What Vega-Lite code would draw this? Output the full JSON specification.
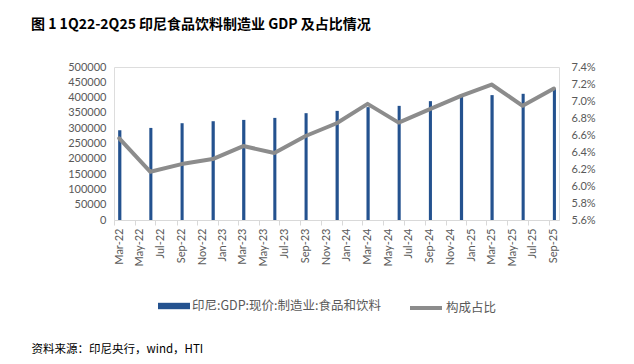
{
  "$schema": "https://vega.github.io/schema/vega-lite/v6.json",
  "width": 445,
  "height": 153,
  "autosize": {"type": "none"},
  "padding": {"left": 114, "top": 67, "right": 75, "bottom": 144},
  "background": "white",
  "title": {
    "text": "图 1 1Q22-2Q25 印尼食品饮料制造业 GDP 及占比情况",
    "font": "Noto Sans CJK SC",
    "fontSize": 14,
    "fontWeight": "bold",
    "color": "#000000",
    "anchor": "start",
    "frame": "group",
    "dx": -83,
    "offset": 29
  },
  "data": {
    "values": [
      {"date": "2022-03-01", "gdp": 293300, "share": 0.06561},
      {"date": "2022-06-01", "gdp": 300900, "share": 0.06167},
      {"date": "2022-09-01", "gdp": 316300, "share": 0.06258},
      {"date": "2022-12-01", "gdp": 322800, "share": 0.06317},
      {"date": "2023-03-01", "gdp": 327100, "share": 0.06470},
      {"date": "2023-06-01", "gdp": 333700, "share": 0.06388},
      {"date": "2023-09-01", "gdp": 349100, "share": 0.06588},
      {"date": "2023-12-01", "gdp": 356600, "share": 0.06738},
      {"date": "2024-03-01", "gdp": 368800, "share": 0.06966},
      {"date": "2024-06-01", "gdp": 373000, "share": 0.06746},
      {"date": "2024-09-01", "gdp": 388400, "share": 0.06904},
      {"date": "2024-12-01", "gdp": 403500, "share": 0.07061},
      {"date": "2025-03-01", "gdp": 408100, "share": 0.07194},
      {"date": "2025-06-01", "gdp": 412400, "share": 0.06943},
      {"date": "2025-09-01", "gdp": 429800, "share": 0.07147}
    ]
  },
  "layer": [
    {
      "mark": {"type": "bar", "width": {"band": 0.4}},
      "encoding": {
        "x": {
          "field": "date",
          "type": "temporal",
          "timeUnit": "utcyearmonth",
          "scale": {
            "type": "utc",
            "nice": false,
            "domain": [
              {"year": 2022, "month": "mar", "date": 1, "utc": true},
              {"year": 2025, "month": "oct", "date": 1, "utc": true}
            ]
          },
          "axis": {
            "format": "%b-%y",
            "tickCount": {"interval": "month", "step": 2},
            "labelAngle": -90,
            "labelOffset": 5,
            "labelPadding": 3,
            "labelOverlap": false,
            "labelFlush": false,
            "labelFont": "Lato",
            "labelFontSize": 11,
            "labelColor": "#595959",
            "domainColor": "#D9D9D9",
            "tickColor": "#D9D9D9",
            "tickSize": 5,
            "grid": false,
            "title": "资料来源：印尼央行，wind，HTI",
            "titleFont": "Noto Sans CJK SC",
            "titleFontSize": 11.5,
            "titleFontWeight": "normal",
            "titleColor": "#000000",
            "titleAnchor": "start",
            "titleAlign": "left",
            "titleBaseline": "middle",
            "titleX": -83,
            "titleY": 129
          }
        },
        "y": {
          "field": "gdp",
          "type": "quantitative",
          "scale": {"domain": [0, 500000], "nice": false},
          "axis": {
            "tickCount": 10,
            "format": "d",
            "domain": false,
            "ticks": false,
            "grid": false,
            "labelPadding": 8,
            "labelFont": "Lato",
            "labelFontSize": 11,
            "labelColor": "#595959",
            "title": null
          }
        },
        "fill": {
          "datum": "印尼:GDP:现价:制造业:食品和饮料",
          "type": "nominal",
          "scale": {"range": ["#24528F"]},
          "legend": {
            "orient": "none",
            "legendX": 44,
            "legendY": 223,
            "title": null,
            "padding": 0,
            "symbolType": "M-1,-0.2H1V0.2H-1Z",
            "symbolSize": 1024,
            "symbolStrokeWidth": 0,
            "labelFont": "Noto Sans CJK SC",
            "labelFontSize": 12.5,
            "labelColor": "#595959",
            "labelOffset": 2,
            "labelLimit": 400
          }
        }
      }
    },
    {
      "mark": {"type": "line", "strokeWidth": 4, "strokeCap": "round", "strokeJoin": "round"},
      "encoding": {
        "x": {"field": "date", "type": "temporal", "timeUnit": "utcyearmonth", "bandPosition": 0.5},
        "y": {
          "field": "share",
          "type": "quantitative",
          "scale": {"domain": [0.056, 0.074], "nice": false},
          "axis": {
            "orient": "right",
            "values": [0.056, 0.058, 0.06, 0.062, 0.064, 0.066, 0.068, 0.07, 0.072, 0.074],
            "format": ".1%",
            "domain": false,
            "ticks": false,
            "grid": false,
            "labelPadding": 12,
            "labelFont": "Lato",
            "labelFontSize": 11,
            "labelColor": "#595959",
            "title": null
          }
        },
        "stroke": {
          "datum": "构成占比",
          "type": "nominal",
          "scale": {"range": ["#8C8C8C"]},
          "legend": {
            "orient": "none",
            "legendX": 294,
            "legendY": 223,
            "title": null,
            "padding": 0,
            "symbolType": "stroke",
            "symbolSize": 1024,
            "symbolStrokeWidth": 4,
            "labelFont": "Noto Sans CJK SC",
            "labelFontSize": 12.5,
            "labelColor": "#595959",
            "labelOffset": 2,
            "labelLimit": 400
          }
        }
      }
    }
  ],
  "resolve": {"scale": {"y": "independent", "fill": "independent", "stroke": "independent"}}
}
